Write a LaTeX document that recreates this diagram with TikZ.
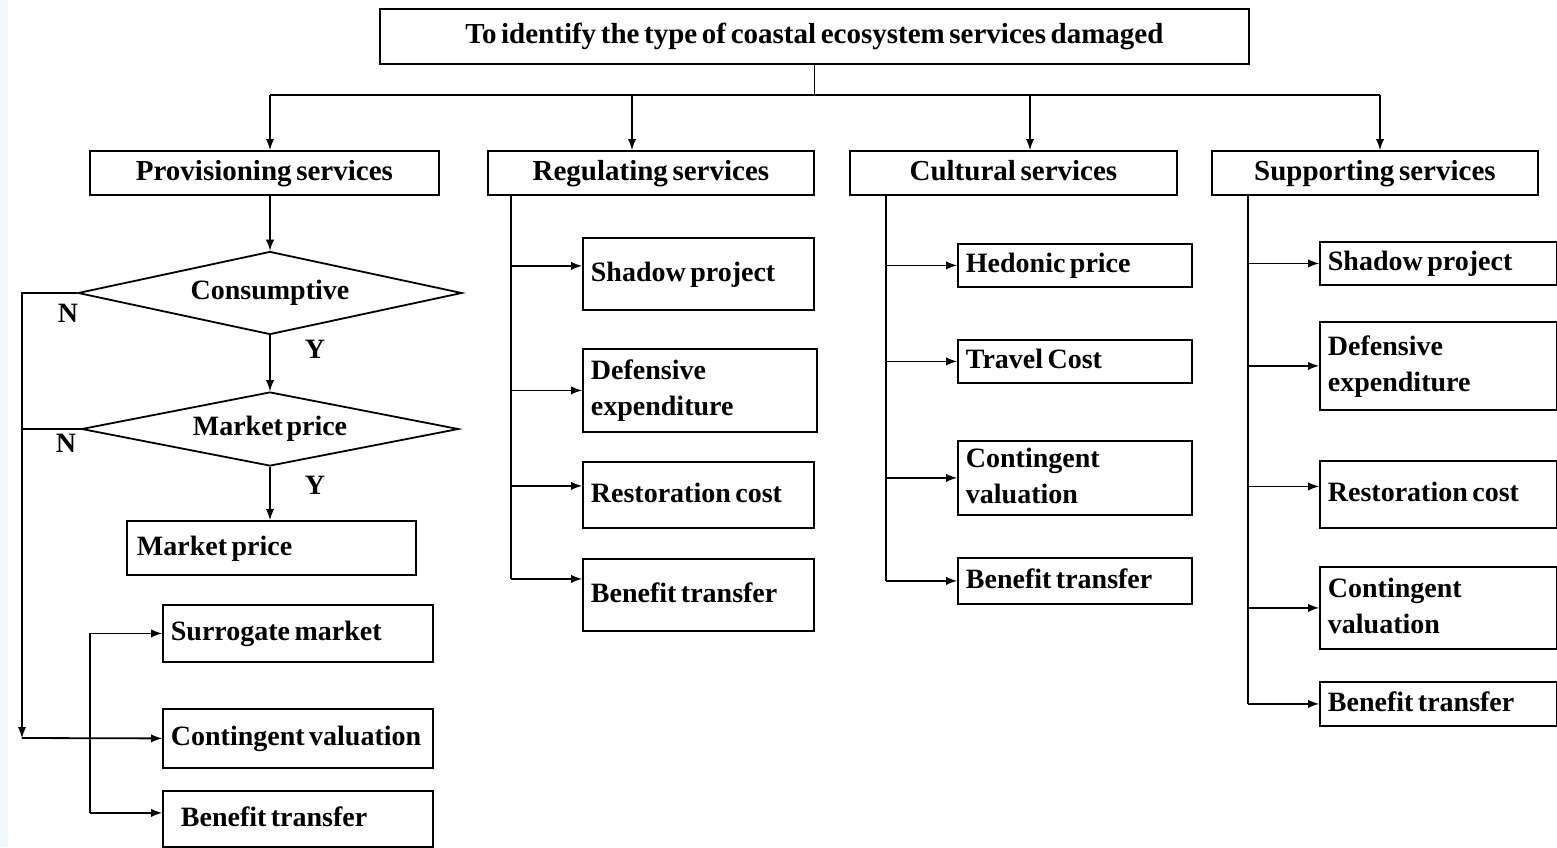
\documentclass[tikz,border=0pt]{standalone}
\usepackage{fontspec}
\setmainfont{Liberation Serif}[WordSpace=0.5]
\usetikzlibrary{shapes.geometric}
\hyphenpenalty=10000

\begin{document}
\begin{tikzpicture}[x = .5pt, y = -.5pt, line width = .9pt,
  box/.style 2 args = {draw, anchor = north west, align = left,
    inner xsep = 4pt, inner ysep = 0pt, text width = #1*.5pt-8pt,
    minimum height = #2*.5pt,
    font = \fontsize{14}{18}\selectfont\bfseries,
    execute at begin node = {\spaceskip=.16em\relax\strut},
    execute at end node = \strut},
  head/.style 2 args = {box = {#1}{#2}, align = center,
    font = \fontsize{14.5}{18}\selectfont\bfseries},
  test/.style = {diamond, draw, inner sep = 0pt, aspect = 4.6,
    font = \fontsize{14}{18}\selectfont\bfseries},
  lab/.style = {font = \fontsize{14}{18}\selectfont\bfseries},
  arr/.style = {-latex}]
\useasboundingbox (0, 0) rectangle (1557, 847);
\fill[cyan!7] (0, 0) rectangle (8, 847);
% top level
\node[head = {869}{55}] (title) at (379, 8)
  {To identify the type of coastal ecosystem services damaged};
\node[head = {349}{44}] (prov) at (89, 150) {Provisioning services};
\node[head = {326}{44}] (reg) at (487, 150) {Regulating services};
\node[head = {327}{44}] (cult) at (849, 150) {Cultural services};
\node[head = {326}{44}] (supp) at (1211, 150) {Supporting services};
\coordinate (j1) at (270, 95);
\coordinate (j2) at (632, 95);
\coordinate (j3) at (1030, 95);
\coordinate (j4) at (1380, 95);
\draw (title.south) -- (title.south |- j1);
\draw (j1) -- (j4);
\draw[arr] (j1) -- (j1 |- prov.north);
\draw[arr] (j2) -- (j2 |- reg.north);
\draw[arr] (j3) -- (j3 |- cult.north);
\draw[arr] (j4) -- (j4 |- supp.north);
% provisioning services
\node[test, minimum width = 192pt, minimum height = 41.5pt] (cons) at (270, 293) {Consumptive};
\node[test, minimum width = 188.5pt, minimum height = 37pt] (mkt) at (270, 429) {Market price};
\node[box = {289}{54}] (mp) at (126, 520) {\hspace{1pt}Market price};
\node[box = {270}{57}] (sm) at (162, 604) {Surrogate market};
\node[box = {270}{59}] (cv1) at (162, 708) {Contingent valuation};
\node[box = {270}{56}] (bt1) at (162, 790) {\hspace{5pt}Benefit transfer};
\draw[arr] (cons.north |- prov.south) -- (cons.north);
\draw[arr] (cons.south) -- (mkt.north);
\draw[arr] (mkt.south) -- (mp.north -| mkt.south);
\node[lab] (y1) at (315, 349) {Y};
\node[lab] (y2) at (315, 485) {Y};
\node[lab] (n1) at (68, 313) {N};
\node[lab] (n2) at (66, 443) {N};
\coordinate (nl) at (22, 738);
\draw[arr] (cons.west) -| (nl);
\draw (mkt.west) -- (mkt.west -| nl);
\draw[arr] (nl) -- (cv1.west);
\coordinate (br) at (90, 632);
\coordinate (bt1w) at ([yshift = 3pt]bt1.west);
\draw (br |- sm.west) -- (br |- bt1w);
\draw[arr] (br |- sm.west) -- (sm.west);
\draw[arr] (br |- bt1w) -- (bt1w);
% regulating services
\node[box = {231}{72}] (rsp) at (582, 237) {Shadow project};
\node[box = {234}{83}] (rde) at (582, 348) {Defensive\\expenditure};
\node[box = {231}{66}] (rrc) at (582, 461) {Restoration cost};
\node[box = {231}{72}] (rbt) at (582, 558) {Benefit transfer};
\coordinate (rt) at (511, 194);
\coordinate (rspw) at ([yshift = 4pt]rsp.west);
\coordinate (rrcw) at ([yshift = 4.5pt]rrc.west);
\coordinate (rbtw) at ([yshift = 8pt]rbt.west);
\draw (rt) -- (rt |- rbtw);
\draw[arr] (rt |- rspw) -- (rspw);
\draw[arr] (rt |- rde.west) -- (rde.west);
\draw[arr] (rt |- rrcw) -- (rrcw);
\draw[arr] (rt |- rbtw) -- (rbtw);
% cultural services
\node[box = {234}{43}] (chp) at (957, 243) {Hedonic price};
\node[box = {234}{43}] (ctc) at (957, 339) {Travel Cost};
\node[box = {234}{74}] (ccv) at (957, 440) {Contingent\\valuation};
\node[box = {234}{46}] (cbt) at (957, 557) {Benefit transfer};
\coordinate (ct) at (886, 194);
\draw (ct) -- (ct |- cbt.west);
\draw[arr] (ct |- chp.west) -- (chp.west);
\draw[arr] (ct |- ctc.west) -- (ctc.west);
\draw[arr] (ct |- ccv.west) -- (ccv.west);
\draw[arr] (ct |- cbt.west) -- (cbt.west);
% supporting services
\node[box = {237}{43}] (ssp) at (1319, 241) {Shadow project};
\node[box = {237}{88}] (sde) at (1319, 321) {Defensive\\expenditure};
\node[box = {237}{67}] (src) at (1319, 460) {Restoration cost};
\node[box = {237}{82}] (scv) at (1319, 566) {Contingent\\valuation};
\node[box = {237}{44}] (sbt) at (1319, 681) {Benefit transfer};
\coordinate (st) at (1248, 194);
\coordinate (srcw) at ([yshift = 4pt]src.west);
\draw (st) -- (st |- sbt.west);
\draw[arr] (st |- ssp.west) -- (ssp.west);
\draw[arr] (st |- sde.west) -- (sde.west);
\draw[arr] (st |- srcw) -- (srcw);
\draw[arr] (st |- scv.west) -- (scv.west);
\draw[arr] (st |- sbt.west) -- (sbt.west);
\end{tikzpicture}
\end{document}
